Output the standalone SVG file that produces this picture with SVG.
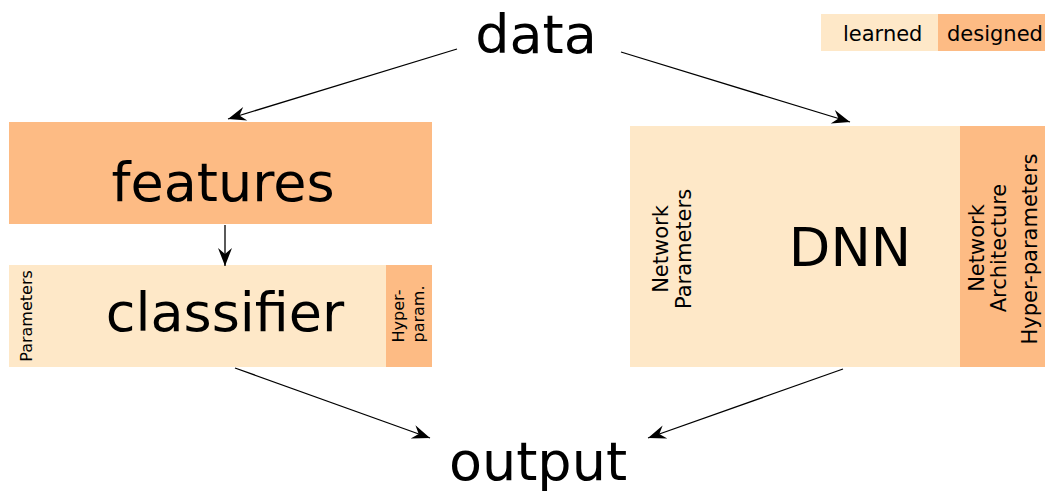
<svg xmlns="http://www.w3.org/2000/svg" width="1045" height="492" viewBox="0 0 1045 492">
  <style>
    text { font-family: "DejaVu Sans", "Liberation Sans", sans-serif; fill: #000; }
    .big { font-size: 54px; text-anchor: middle; }
    .lbl { font-size: 21px; text-anchor: middle; }
    .sm { font-size: 16px; text-anchor: middle; }
    .leg { font-size: 21px; }
    .learned { fill: #fee8c8; }
    .designed { fill: #fdbb84; }
    .conn { stroke: #000; stroke-width: 1.3; fill: none; marker-end: url(#arrow); }
  </style>
  <defs>
    <marker id="arrow" markerUnits="userSpaceOnUse" markerWidth="22" markerHeight="16" viewBox="-19 -8 20 16" refX="0" refY="0" orient="auto">
      <path d="M0,0 L-18,-7 L-12,0 L-18,7 Z" fill="#000"/>
    </marker>
  </defs>

  <rect width="1045" height="492" fill="#fff"/>

  <!-- legend -->
  <g id="legend">
    <rect class="learned" x="821" y="14" width="117" height="37"/>
    <rect class="designed" x="938" y="14" width="107" height="37"/>
    <text class="leg" x="843" y="41">learned</text>
    <text class="leg" x="947" y="41">designed</text>
  </g>

  <!-- input -->
  <g id="data">
    <text class="big" x="536" y="53">data</text>
  </g>

  <!-- hand-crafted pipeline -->
  <g id="features">
    <rect class="designed" x="9" y="122" width="423" height="102"/>
    <text class="big" x="223" y="201">features</text>
  </g>

  <g id="classifier">
    <rect class="learned" x="9" y="265" width="377" height="102"/>
    <rect class="designed" x="386" y="265" width="46" height="102"/>
    <text class="big" x="225" y="331">classifier</text>
    <text class="sm" transform="translate(32 316) rotate(-90)">Parameters</text>
    <text class="sm" transform="translate(404 316) rotate(-90)">Hyper-</text>
    <text class="sm" transform="translate(424 314) rotate(-90)">param.</text>
  </g>

  <!-- deep network -->
  <g id="dnn">
    <rect class="learned" x="630" y="126" width="330" height="241"/>
    <rect class="designed" x="960" y="126" width="85" height="241"/>
    <text class="big" x="850" y="266">DNN</text>
    <text class="lbl" transform="translate(668 249) rotate(-90)">Network</text>
    <text class="lbl" transform="translate(691 249) rotate(-90)">Parameters</text>
    <text class="lbl" transform="translate(984 248) rotate(-90)">Network</text>
    <text class="lbl" transform="translate(1006 248) rotate(-90)">Architecture</text>
    <text class="lbl" transform="translate(1037 249) rotate(-90)">Hyper-parameters</text>
  </g>

  <!-- result -->
  <g id="output">
    <text class="big" x="538" y="480">output</text>
  </g>

  <!-- connectors -->
  <g id="connectors">
    <line class="conn" x1="457" y1="49" x2="228" y2="119"/>
    <line class="conn" x1="621" y1="52" x2="850" y2="122"/>
    <line class="conn" x1="225" y1="225" x2="225" y2="266"/>
    <line class="conn" x1="235" y1="368" x2="430" y2="438"/>
    <line class="conn" x1="843" y1="369" x2="648" y2="438"/>
  </g>
</svg>
